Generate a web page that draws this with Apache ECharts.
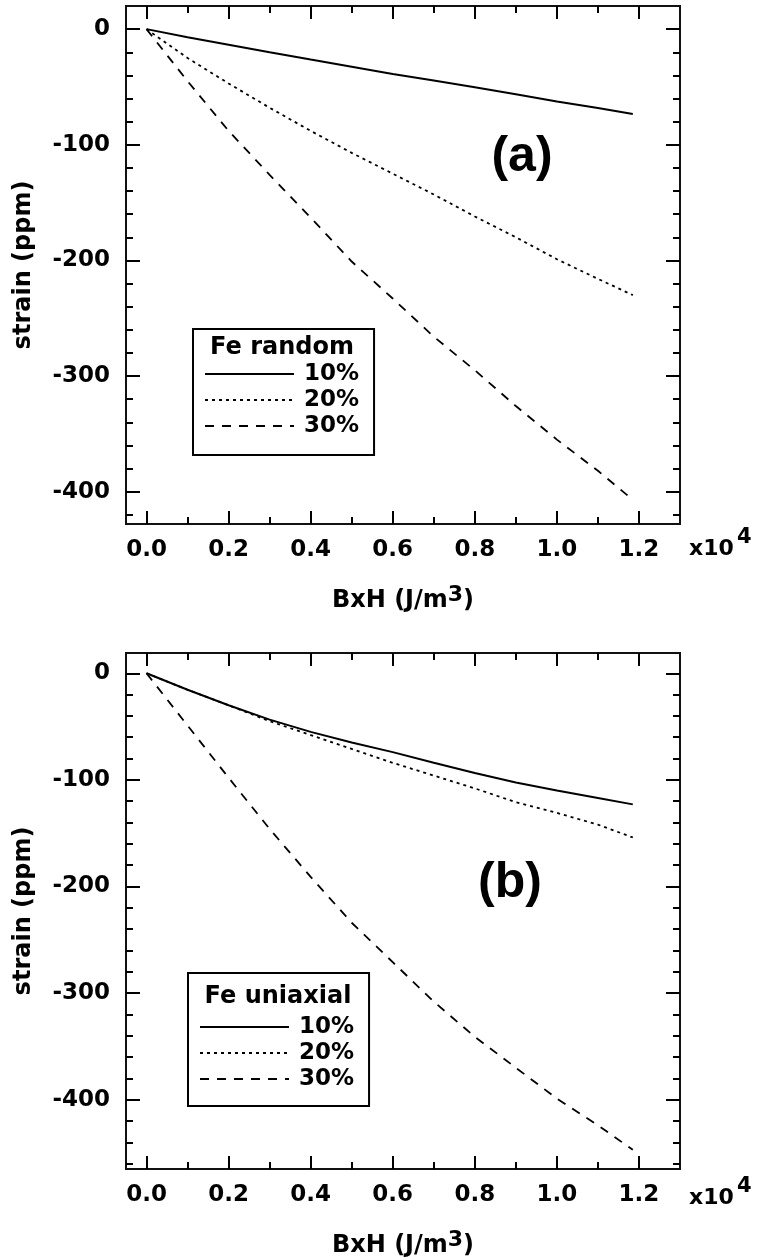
<!DOCTYPE html>
<html><head><meta charset="utf-8">
<script src="https://cdn.jsdelivr.net/npm/echarts@6/dist/echarts.min.js"></script>
<style>html,body{margin:0;padding:0;background:#fff}#c{width:759px;height:1259px}</style>
</head><body><div id="c"></div>
<script>
// ---- data ----
const bxh = [0, 0.1, 0.2, 0.3, 0.4, 0.5, 0.6, 0.7, 0.8, 0.9, 1.0, 1.1, 1.185];
// (a) Fe random
const random10 = [0, -7, -13.5, -20, -26.3, -32.5, -38.8, -44.5, -50.3, -56.3, -62.5, -68.3, -73.5];
const random20 = [0, -25, -47, -68, -88, -107, -125, -143, -162, -180, -199, -216, -230];
const random30 = [0, -45, -88, -126, -163, -201, -233, -266, -295, -326, -355, -382, -407];
// (b) Fe uniaxial
const uniaxial10 = [0, -15.5, -30, -43.5, -55, -65, -74, -84, -93.5, -102.5, -110, -117, -123];
const uniaxial20 = [0, -15.5, -30, -45, -58, -71, -84, -96, -108, -121, -131, -142, -154];
const uniaxial30 = [0, -49, -98, -146, -191, -234, -271, -308, -341, -370, -399, -424, -447];
const seriesNames = ['10%', '20%', '30%'];
const xMajorTicks = [0, 0.2, 0.4, 0.6, 0.8, 1.0, 1.2];
const xMinorTicks = [0.1, 0.3, 0.5, 0.7, 0.9, 1.1];
const yMajorTicks = [0, -100, -200, -300, -400];
const yMinorTicksA = [-20,-40,-60,-80,-120,-140,-160,-180,-220,-240,-260,-280,-320,-340,-360,-380,-420];
const yMinorTicksB = [-20,-40,-60,-80,-120,-140,-160,-180,-220,-240,-260,-280,-320,-340,-360,-380,-420,-440,-460];

const FONT = 'DejaVu Sans';
const txt = {fontFamily: FONT, fontWeight: 'bold', fontSize: 23, color: '#000'};
const tickLS = {color: '#000', width: 2};
const noLine = {show: false, onZero: false};

function xAxes(g) {
  const base = {gridIndex: g, type: 'value', min: -0.05, max: 1.3, axisLine: noLine, splitLine: {show: false}};
  return [
    Object.assign({}, base, {position: 'bottom',
      axisTick: {inside: true, length: 13, customValues: xMajorTicks, lineStyle: tickLS},
      axisLabel: Object.assign({customValues: xMajorTicks, margin: 15, formatter: v => v.toFixed(1)}, txt),
      name: 'BxH (J/m{s|3})', nameLocation: 'middle', nameGap: 60,
      nameTextStyle: Object.assign({}, txt, {fontSize: 24, rich: {s: {fontFamily: FONT, fontWeight: 'bold', fontSize: 22, color: '#000', padding: [0, 0, 12, 0]}}})}),
    Object.assign({}, base, {position: 'bottom',
      axisTick: {inside: true, length: 7, customValues: xMinorTicks, lineStyle: tickLS}, axisLabel: {show: false}}),
    Object.assign({}, base, {position: 'top',
      axisTick: {inside: true, length: 13, customValues: xMajorTicks, lineStyle: tickLS}, axisLabel: {show: false}}),
    Object.assign({}, base, {position: 'top',
      axisTick: {inside: true, length: 7, customValues: xMinorTicks, lineStyle: tickLS}, axisLabel: {show: false}})
  ];
}
function yAxes(g, min, max, minor) {
  const base = {gridIndex: g, type: 'value', min: min, max: max, axisLine: noLine, splitLine: {show: false}};
  return [
    Object.assign({}, base, {position: 'left',
      axisTick: {inside: true, length: 14, customValues: yMajorTicks, lineStyle: tickLS},
      axisLabel: Object.assign({customValues: yMajorTicks, margin: 16}, txt),
      name: 'strain (ppm)', nameLocation: 'middle', nameRotate: 90, nameGap: 90,
      nameTextStyle: Object.assign({}, txt, {fontSize: 24})}),
    Object.assign({}, base, {position: 'left',
      axisTick: {inside: true, length: 7, customValues: minor, lineStyle: tickLS}, axisLabel: {show: false}}),
    Object.assign({}, base, {position: 'right',
      axisTick: {inside: true, length: 14, customValues: yMajorTicks, lineStyle: tickLS}, axisLabel: {show: false}}),
    Object.assign({}, base, {position: 'right',
      axisTick: {inside: true, length: 7, customValues: minor, lineStyle: tickLS}, axisLabel: {show: false}})
  ];
}
const styles = [
  {color: '#000', width: 2, type: 'solid'},
  {color: '#000', width: 1.8, type: [3, 4]},
  {color: '#000', width: 1.8, type: [9, 8]}
];
function mk(name, g, ys, st) {
  return {type: 'line', name: name, xAxisIndex: g * 4, yAxisIndex: g * 4,
    data: bxh.map((x, i) => [x, ys[i]]), symbol: 'none', lineStyle: st, silent: true, animation: false};
}
function legend(left, top, pad) {
  return {left: left, top: top, orient: 'vertical', padding: pad, itemGap: 0, itemWidth: 89, itemHeight: 12,
    borderColor: '#000', borderWidth: 2, selectedMode: false, data: seriesNames,
    itemStyle: {opacity: 0},
    textStyle: Object.assign({}, txt, {lineHeight: 26, padding: [0, 0, 0, 5]})};
}
const chart = echarts.init(document.getElementById('c'), null, {renderer: 'canvas'});
chart.setOption({
  backgroundColor: '#fff',
  animation: false,
  grid: [
    {left: 126, top: 6, width: 554, height: 518, show: true, borderColor: '#111', borderWidth: 2, backgroundColor: 'transparent'},
    {left: 126, top: 653, width: 554, height: 520, show: true, borderColor: '#111', borderWidth: 2, backgroundColor: 'transparent'}
  ],
  xAxis: xAxes(0).concat(xAxes(1)),
  yAxis: yAxes(0, -428, 20, yMinorTicksA).concat(yAxes(1, -465, 19, yMinorTicksB)),
  legend: [legend(193, 329, [32, 15, 16, 11]), legend(188, 973, [41, 15, 14, 11])],
  series: [
    mk(seriesNames[0], 0, random10, styles[0]),
    mk(seriesNames[1], 0, random20, styles[1]),
    mk(seriesNames[2], 0, random30, styles[2]),
    mk(seriesNames[0], 1, uniaxial10, styles[0]),
    mk(seriesNames[1], 1, uniaxial20, styles[1]),
    mk(seriesNames[2], 1, uniaxial30, styles[2])
  ],
  graphic: [
    {type: 'text', x: 282, y: 348, style: {text: 'Fe random', font: 'bold 24px "DejaVu Sans"', fill: '#000', align: 'center', verticalAlign: 'middle'}},
    {type: 'text', x: 278, y: 997, style: {text: 'Fe uniaxial', font: 'bold 24px "DejaVu Sans"', fill: '#000', align: 'center', verticalAlign: 'middle'}},
    {type: 'text', x: 522, y: 157, style: {text: '(a)', font: 'bold 50px "Liberation Sans"', fill: '#000', align: 'center', verticalAlign: 'middle'}},
    {type: 'text', x: 510, y: 883, style: {text: '(b)', font: 'bold 50px "Liberation Sans"', fill: '#000', align: 'center', verticalAlign: 'middle'}},
    {type: 'text', x: 689, y: 549, style: {text: 'x10', font: 'bold 22px "DejaVu Sans"', fill: '#000', align: 'left', verticalAlign: 'middle'}},
    {type: 'text', x: 737, y: 538, style: {text: '4', font: 'bold 21px "DejaVu Sans"', fill: '#000', align: 'left', verticalAlign: 'middle'}},
    {type: 'text', x: 689, y: 1198, style: {text: 'x10', font: 'bold 22px "DejaVu Sans"', fill: '#000', align: 'left', verticalAlign: 'middle'}},
    {type: 'text', x: 737, y: 1187, style: {text: '4', font: 'bold 21px "DejaVu Sans"', fill: '#000', align: 'left', verticalAlign: 'middle'}}
  ]
});
</script></body></html>
